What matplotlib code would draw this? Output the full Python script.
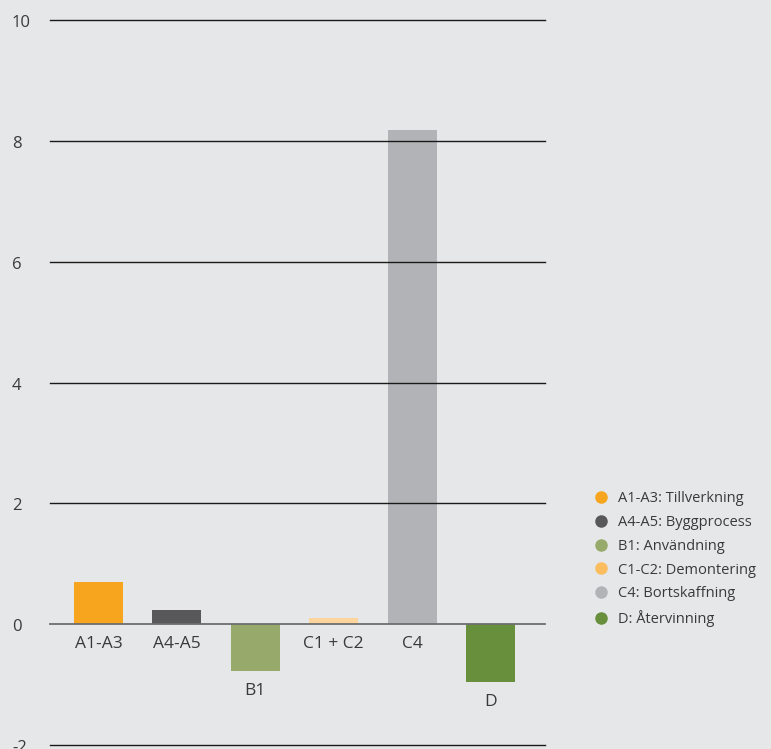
import matplotlib
matplotlib.use("Agg")
import matplotlib.pyplot as plt
from matplotlib.lines import Line2D

plt.rcParams['font.family'] = ['Open Sans', 'DejaVu Sans']

# data
categories = ['A1-A3', 'A4-A5', 'B1', 'C1 + C2', 'C4', 'D']
values = [0.70, 0.23, -0.78, 0.10, 8.18, -0.96]
bar_colors = ['#f7a51e', '#58585a', '#98aa6b', '#fdd59c', '#b2b3b6', '#678f3c']
legend_labels = ['A1-A3: Tillverkning', 'A4-A5: Byggprocess', 'B1: Användning',
                 'C1-C2: Demontering', 'C4: Bortskaffning', 'D: Återvinning']
legend_colors = ['#f7a51e', '#58585a', '#98aa6b', '#fbbd5e', '#b2b3b6', '#678f3c']
yticks = [-2, 0, 2, 4, 6, 8, 10]

bg = '#e6e7e8'
fig = plt.figure(figsize=(7.71, 7.49), dpi=100, facecolor=bg)
ax = fig.add_axes([50 / 771, 4 / 749, 495 / 771, 725 / 749], facecolor=bg)

x = range(len(categories))
ax.bar(x, values, width=0.625, color=bar_colors, zorder=1)

# grid lines drawn on top of the bars
for t in yticks:
    if t == 0:
        ax.axhline(0, color='#6d6e70', lw=1.3, zorder=3, clip_on=False)
    else:
        ax.axhline(t, color='#1a1a1a', lw=1.0, zorder=3, clip_on=False)

ax.set_xlim(-0.619, 5.695)
ax.set_ylim(-2, 10)
ax.set_xticks([])
ax.set_yticks([])
for s in ax.spines.values():
    s.set_visible(False)

for t in yticks:
    ax.annotate(str(t), xy=(0, t), xycoords=('figure pixels', 'data'),
                xytext=(12, -3), textcoords='offset pixels',
                ha='left', va='center', fontsize=12, color='#3a3a3c',
                annotation_clip=False)

for xi, (cat, v) in enumerate(zip(categories, values)):
    ax.annotate(cat, xy=(xi, min(v, 0)), xytext=(0, -20),
                textcoords='offset pixels', ha='center', va='center',
                fontsize=12.5, color='#3a3a3c')

handles = [Line2D([], [], marker='o', ls='', color=c, markersize=8) for c in legend_colors]
fig.legend(handles, legend_labels, loc='upper left',
           bbox_to_anchor=(588 / 771, 1 - 484 / 749), frameon=False,
           fontsize=10.5, labelcolor='#3a3a3c', handlelength=0.8,
           handletextpad=0.75, labelspacing=0.6, borderpad=0)

fig.savefig('out.png', dpi=100, facecolor=bg)
